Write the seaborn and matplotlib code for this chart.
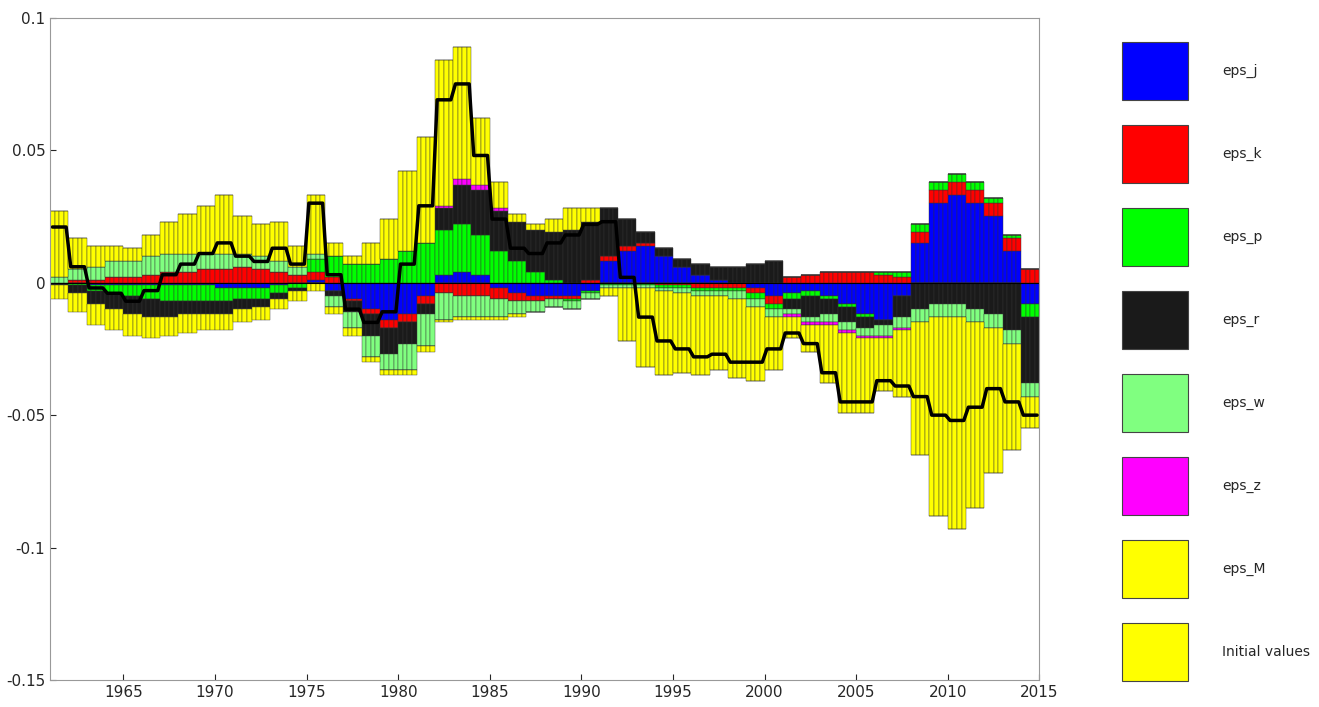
import numpy as np
import matplotlib
matplotlib.use('Agg')
import matplotlib.pyplot as plt
import seaborn as sns
from matplotlib.patches import Rectangle

years = np.arange(1961, 2015)
# annual contributions (x 0.001), each year shown as four quarterly bars
eps_j = [0, 0, -1, -1, -1, -1, -1, -1, -1, -2, -2, -2, -1, 0, 1, -3, -6, -10, -14, -12,
         -5, 3, 4, 3, -2, -4, -5, -5, -5, -3, 8, 12, 14, 10, 6, 3, 1, 0, -2, -5,
         -4, -3, -5, -8, -12, -14, -5, 15, 30, 33, 30, 25, 12, -8]
eps_k = [0, 1, 1, 2, 2, 3, 4, 4, 5, 5, 6, 5, 4, 3, 3, 2, -1, -2, -3, -3,
         -3, -4, -5, -5, -4, -3, -2, -1, -1, 1, 2, 2, 1, -1, -1, -2, -2, -2, -2, -3,
         2, 3, 4, 4, 4, 3, 2, 4, 5, 5, 5, 5, 5, 5]
eps_p = [0, -1, -2, -3, -4, -5, -6, -6, -6, -5, -4, -4, -3, -2, 5, 8, 7, 7, 9, 12,
         15, 17, 18, 15, 12, 8, 4, 1, -1, -1, -1, -1, -1, -1, -1, -1, -1, -1, -2, -2,
         -2, -2, -1, -1, -1, 1, 2, 3, 3, 3, 3, 2, 1, -5]
eps_r = [-1, -3, -5, -6, -7, -7, -6, -5, -5, -5, -4, -3, -2, -1, 0, -2, -4, -8, -10, -8,
         -4, 8, 15, 17, 15, 15, 16, 18, 20, 22, 18, 10, 4, 3, 3, 4, 5, 6, 7, 8,
         -4, -8, -6, -6, -4, -2, -8, -10, -8, -8, -10, -12, -18, -25]
eps_w = [2, 4, 5, 6, 6, 7, 7, 7, 6, 6, 5, 5, 4, 3, 2, -4, -6, -8, -6, -10,
         -12, -10, -8, -8, -7, -5, -4, -3, -3, -2, -1, -1, -1, -1, -2, -2, -2, -3, -3, -3,
         -2, -2, -3, -3, -3, -4, -4, -5, -5, -5, -5, -5, -5, -5]
eps_z = [0] * 21 + [1, 2, 2, 1] + [0] * 15 + [-1, -1, -1, -1, -1, -1, -1] + [0] * 7
eps_M = [25, 12, 8, 6, 5, 8, 12, 15, 18, 22, 14, 12, 15, 8, 22, 5, 3, 8, 15, 30,
         40, 55, 50, 25, 10, 3, 2, 5, 8, 5, -3, -20, -30, -32, -30, -30, -28, -30, -28, -20,
         -8, -10, -22, -30, -28, -20, -25, -50, -75, -80, -70, -55, -40, -12]
init_vals = [-5, -7, -8, -8, -8, -8, -7, -7, -6, -6, -5, -5, -4, -4, -3, -3, -3, -2, -2, -2,
             -2, -1, -1, -1, -1, -1] + [0] * 28

names = ['eps_j', 'eps_k', 'eps_p', 'eps_r', 'eps_w', 'eps_z', 'eps_M', 'Initial values']
colors = ['#0000ff', '#ff0000', '#00ff00', '#1a1a1a', '#80ff80', '#ff00ff', '#ffff00', '#ffff00']
series = [eps_j, eps_k, eps_p, eps_r, eps_w, eps_z, eps_M, init_vals]

x = 1961 + np.arange(len(years) * 4) / 4 + 0.125
data = np.array([np.repeat(np.array(s, float) / 1000, 4) for s in series])

sns.set_style('white')
fig = plt.figure(figsize=(13.19, 7.07), dpi=100)
ax = fig.add_axes([0.038, 0.038, 0.75, 0.937])

pos_base = np.zeros(data.shape[1])
neg_base = np.zeros(data.shape[1])
for vals, c in zip(data, colors):
    pos = np.clip(vals, 0, None)
    neg = np.clip(vals, None, 0)
    ax.bar(x, pos, width=0.25, bottom=pos_base, color=c, edgecolor='#333333', linewidth=0.3)
    ax.bar(x, neg, width=0.25, bottom=neg_base, color=c, edgecolor='#333333', linewidth=0.3)
    pos_base += pos
    neg_base += neg

total = data.sum(axis=0)
sns.lineplot(x=x, y=total, color='black', linewidth=2.5, ax=ax)
ax.axhline(0, color='black', linewidth=0.8)

ax.set_xlim(1961, 2015)
ax.set_ylim(-0.15, 0.1)
ax.set_xticks(range(1965, 2016, 5))
ax.set_yticks([-0.15, -0.1, -0.05, 0, 0.05, 0.1])
ax.set_yticklabels(['-0.15', '-0.1', '-0.05', '0', '0.05', '0.1'])
ax.tick_params(labelsize=11, direction='in', length=4, bottom=True, left=True)
for s in ax.spines.values():
    s.set_color('#999999')

lax = fig.add_axes([0.8, 0.0, 0.2, 1.0])
lax.set_xlim(0, 1)
lax.set_ylim(707, 0)
lax.axis('off')
for i, (n, c) in enumerate(zip(names, colors)):
    top = 42 + i * 83
    lax.add_patch(Rectangle((0.254, top), 0.25, 58, facecolor=c, edgecolor='#444444', linewidth=0.8))
    lax.text(0.633, top + 29, n, va='center', ha='left', fontsize=10)

fig.savefig('out.png', dpi=100)
